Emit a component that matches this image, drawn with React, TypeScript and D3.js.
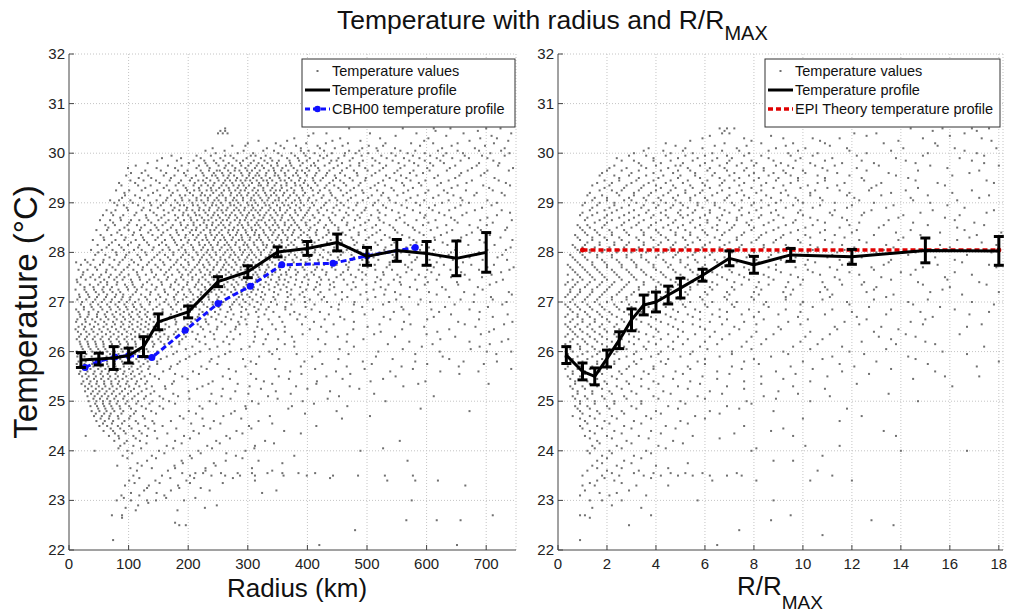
import React from 'react';
import * as d3 from 'd3';

const W = 1013;
const H = 615;

const tempTicks = [22, 23, 24, 25, 26, 27, 28, 29, 30, 31, 32];
const radiusTicks = [0, 100, 200, 300, 400, 500, 600, 700];
const ratioTicks = [0, 2, 4, 6, 8, 10, 12, 14, 16, 18];

// Temperature profile vs radius (km)
const profileRadius = [20, 50, 75, 100, 125, 150, 200, 250, 300, 350, 400, 450, 500, 550, 600, 650, 700];
const profileRadiusT = [25.83, 25.85, 25.87, 25.92, 26.1, 26.6, 26.8, 27.41, 27.61, 28.01, 28.08, 28.2, 27.92, 28.04, 27.98, 27.88, 28.0];
const profileRadiusErr = [0.15, 0.12, 0.23, 0.15, 0.2, 0.16, 0.12, 0.1, 0.12, 0.1, 0.14, 0.17, 0.18, 0.22, 0.24, 0.35, 0.4];

// CBH00 temperature profile
const cbhRadius = [27, 49, 77, 100, 139, 195, 250, 304, 357, 443, 500, 581];
const cbhT = [25.68, 25.8, 25.89, 25.92, 25.88, 26.43, 26.97, 27.32, 27.75, 27.78, 27.93, 28.1];

// Temperature profile vs R/RMAX
const profileRatio = [0.34, 1.0, 1.5, 2.0, 2.5, 3.0, 3.5, 4.0, 4.5, 5.0, 5.9, 7.0, 8.0, 9.5, 12, 15, 18];
const profileRatioT = [25.93, 25.6, 25.5, 25.86, 26.23, 26.64, 26.94, 27.0, 27.14, 27.28, 27.54, 27.88, 27.75, 27.95, 27.91, 28.04, 28.03];
const profileRatioErr = [0.17, 0.17, 0.17, 0.17, 0.17, 0.22, 0.2, 0.2, 0.18, 0.2, 0.12, 0.15, 0.17, 0.13, 0.15, 0.25, 0.29];

// EPI theory
const epiRatio = [1, 18];
const epiT = [28.05, 28.05];

// Scatter: [temperature level, radii (km)]
const leftScatter: [number, number[]][] = [
  [30.5, [262, 470, 560, 612, 640, 700, 724]],
  [30.4, [250, 258, 266, 410, 432, 505, 583, 662, 742]],
  [30.3, [378, 455, 522, 603, 690, 718]],
  [30.2, [300, 347, 398, 431, 468, 531, 574, 611, 652, 713]],
  [30.1, [241, 332, 361, 389, 421, 446, 492, 516, 547, 626, 681, 731]],
  [30.0, [246, 283, 309, 351, 373, 394, 412, 441, 463, 481, 502, 541, 568, 597, 633, 661, 707, 739]],
  [29.9, [156, 188, 221, 254, 276, 298, 322, 338, 366, 384, 404, 427, 452, 476, 509, 533, 562, 588, 617, 643, 671, 702]],
  [29.8, [132, 201, 229, 247, 268, 287, 305, 318, 333, 349, 371, 392, 411, 437, 458, 487, 521, 553, 579, 606, 629, 688, 722]],
  [29.7, [99, 147, 178, 214, 236, 261, 279, 296, 312, 327, 343, 358, 377, 399, 418, 444, 466, 497, 527, 556, 601, 639, 676, 745]],
  [29.6, [104, 122, 163, 193, 224, 243, 257, 271, 289, 303, 316, 331, 346, 362, 381, 396, 415, 433, 455, 483, 514, 546, 572, 594, 658, 697]],
  [29.5, [117, 138, 171, 206, 231, 249, 266, 282, 298, 309, 323, 337, 353, 369, 388, 409, 426, 448, 471, 498, 538, 566, 613, 648, 714]],
  [29.4, [84, 111, 152, 184, 211, 229, 244, 259, 274, 291, 307, 319, 334, 348, 365, 379, 394, 413, 437, 461, 489, 519, 559, 587, 624, 667, 733]],
  [29.3, [128, 159, 196, 218, 238, 252, 268, 283, 297, 311, 326, 341, 357, 373, 391, 406, 429, 452, 478, 506, 541, 577, 642, 705]],
  [29.2, [93, 141, 174, 203, 223, 242, 256, 272, 286, 301, 314, 329, 344, 361, 377, 396, 418, 439, 466, 494, 527, 561, 598, 635, 684, 726]],
  [29.1, [89, 119, 165, 189, 214, 233, 248, 263, 277, 292, 306, 321, 335, 352, 368, 386, 403, 424, 447, 473, 502, 536, 573, 611, 657]],
  [29.0, [76, 107, 136, 158, 182, 207, 226, 241, 255, 270, 284, 299, 313, 328, 342, 358, 374, 389, 408, 431, 456, 484, 513, 548, 582, 626, 671, 718]],
  [28.9, [97, 125, 149, 177, 198, 219, 236, 251, 266, 281, 295, 309, 324, 338, 354, 371, 387, 404, 423, 444, 469, 498, 532, 567, 604, 648, 693]],
  [28.8, [71, 113, 142, 167, 192, 211, 229, 244, 258, 273, 288, 302, 317, 331, 347, 363, 380, 399, 419, 442, 465, 491, 521, 553, 589, 621, 667, 740]],
  [28.7, [86, 130, 155, 183, 204, 223, 239, 253, 268, 282, 297, 311, 326, 341, 357, 374, 393, 412, 436, 461, 488, 519, 555, 596, 641, 702]],
  [28.6, [74, 101, 138, 162, 187, 209, 226, 241, 255, 271, 286, 300, 315, 329, 346, 362, 379, 397, 418, 441, 467, 497, 528, 563, 603, 652, 711]],
  [28.5, [66, 93, 121, 147, 171, 196, 214, 231, 247, 262, 277, 292, 306, 321, 336, 352, 369, 386, 405, 428, 452, 478, 509, 544, 577, 618, 686, 735]],
  [28.4, [81, 109, 133, 158, 181, 203, 221, 237, 252, 267, 282, 297, 312, 327, 343, 359, 376, 394, 414, 436, 459, 486, 516, 551, 588, 634, 676]],
  [28.3, [58, 95, 124, 149, 173, 195, 214, 230, 245, 260, 275, 290, 304, 319, 334, 350, 367, 385, 404, 426, 449, 474, 503, 538, 571, 613, 658, 724]],
  [28.2, [72, 104, 131, 156, 178, 199, 218, 235, 250, 265, 280, 295, 310, 325, 341, 357, 373, 392, 412, 433, 458, 483, 514, 546, 583, 627, 697]],
  [28.1, [63, 88, 116, 142, 167, 189, 208, 225, 241, 256, 271, 286, 301, 316, 331, 347, 364, 382, 401, 422, 445, 471, 499, 531, 566, 604, 649, 741]],
  [28.0, [49, 79, 101, 128, 152, 175, 196, 214, 231, 246, 262, 277, 292, 307, 322, 338, 355, 372, 391, 412, 435, 460, 489, 521, 557, 596, 641, 688]],
  [27.9, [68, 94, 119, 143, 166, 188, 207, 223, 239, 254, 269, 284, 299, 314, 330, 346, 363, 382, 403, 426, 451, 478, 511, 546, 584, 623, 672, 719]],
  [27.8, [12, 31, 57, 85, 109, 134, 158, 180, 200, 218, 234, 249, 264, 279, 294, 309, 325, 341, 358, 377, 397, 419, 443, 470, 503, 538, 575, 617, 661]],
  [27.7, [44, 73, 98, 124, 149, 171, 192, 211, 227, 243, 258, 273, 288, 303, 319, 335, 352, 371, 392, 416, 441, 469, 501, 533, 569, 612, 653, 702, 746]],
  [27.6, [24, 62, 88, 114, 139, 163, 185, 204, 221, 237, 252, 268, 283, 298, 313, 329, 346, 364, 384, 407, 432, 460, 492, 527, 566, 608, 658, 725]],
  [27.5, [20, 36, 51, 67, 80, 93, 118, 143, 166, 188, 207, 224, 240, 256, 271, 286, 302, 318, 334, 352, 372, 395, 420, 449, 481, 517, 556, 598, 641, 693]],
  [27.4, [14, 53, 64, 81, 106, 131, 155, 178, 199, 217, 234, 250, 266, 281, 297, 313, 330, 348, 368, 391, 416, 444, 477, 514, 555, 602, 651, 717]],
  [27.3, [26, 41, 58, 72, 97, 110, 122, 147, 170, 192, 211, 228, 245, 261, 277, 293, 310, 327, 345, 365, 388, 414, 445, 481, 523, 572, 626, 686]],
  [27.2, [29, 45, 58, 73, 86, 112, 137, 161, 183, 204, 222, 239, 256, 272, 289, 306, 324, 344, 366, 392, 422, 458, 499, 547, 604, 663, 738]],
  [27.1, [18, 34, 47, 62, 77, 90, 103, 128, 153, 176, 197, 216, 234, 251, 268, 285, 303, 322, 343, 367, 395, 428, 467, 514, 571, 638, 708]],
  [27.0, [22, 40, 55, 70, 84, 97, 111, 136, 160, 183, 204, 223, 241, 259, 277, 296, 316, 339, 365, 396, 433, 479, 537, 606, 679, 734]],
  [26.9, [25, 38, 53, 68, 82, 96, 109, 122, 147, 171, 193, 213, 232, 251, 270, 290, 311, 335, 363, 397, 440, 492, 558, 631, 703]],
  [26.8, [16, 33, 49, 64, 79, 92, 106, 119, 132, 157, 181, 203, 224, 245, 266, 289, 314, 343, 378, 421, 476, 545, 621, 689]],
  [26.7, [19, 31, 47, 62, 76, 91, 104, 118, 131, 144, 169, 193, 216, 239, 263, 289, 318, 353, 397, 455, 528, 612, 711]],
  [26.6, [12, 28, 44, 59, 74, 88, 102, 115, 129, 142, 155, 180, 205, 230, 256, 284, 317, 358, 411, 478, 562, 653, 744]],
  [26.5, [16, 27, 42, 58, 72, 87, 101, 115, 128, 142, 168, 194, 221, 249, 280, 316, 362, 423, 501, 596, 682]],
  [26.4, [15, 29, 41, 55, 69, 83, 97, 111, 125, 139, 152, 179, 207, 237, 271, 311, 362, 432, 523, 618, 705]],
  [26.3, [17, 30, 43, 56, 70, 83, 97, 111, 125, 139, 153, 167, 196, 228, 265, 312, 374, 451, 547, 648]],
  [26.2, [18, 31, 44, 57, 70, 84, 97, 111, 125, 140, 154, 185, 219, 259, 310, 378, 466, 571, 672, 726]],
  [26.1, [21, 33, 46, 58, 71, 84, 98, 112, 126, 141, 172, 207, 249, 303, 378, 478, 592, 689]],
  [26.0, [13, 26, 39, 52, 64, 77, 90, 104, 118, 133, 148, 181, 220, 270, 336, 421, 519, 622, 701, 742]],
  [25.9, [14, 26, 38, 51, 63, 76, 89, 103, 117, 132, 164, 202, 251, 319, 408, 515, 627]],
  [25.8, [16, 28, 40, 52, 64, 77, 89, 103, 117, 132, 148, 186, 236, 305, 395, 493, 581, 662, 718]],
  [25.7, [18, 29, 41, 53, 66, 78, 92, 105, 120, 135, 171, 222, 296, 389, 466, 558, 654]],
  [25.6, [19, 31, 43, 55, 67, 80, 93, 107, 122, 158, 208, 280, 371, 448, 539, 623, 687]],
  [25.5, [22, 33, 45, 57, 69, 82, 96, 110, 127, 144, 190, 258, 352, 432, 548]],
  [25.4, [24, 36, 47, 59, 71, 84, 98, 114, 131, 176, 241, 327, 416, 506, 598]],
  [25.3, [27, 38, 50, 61, 73, 86, 101, 118, 139, 161, 224, 303, 381, 471, 561]],
  [25.2, [27, 40, 51, 63, 75, 89, 104, 122, 143, 201, 279, 347, 438]],
  [25.1, [31, 43, 55, 66, 79, 93, 110, 129, 152, 183, 256, 334, 453, 612]],
  [25.0, [33, 46, 57, 69, 82, 98, 116, 140, 168, 236, 307, 392, 531]],
  [24.9, [36, 47, 59, 71, 85, 101, 122, 152, 219, 296, 374, 467]],
  [24.8, [38, 51, 63, 76, 91, 112, 138, 201, 278, 449, 672]],
  [24.7, [42, 55, 68, 82, 103, 124, 186, 259, 337, 505]],
  [24.6, [46, 60, 74, 93, 112, 140, 171, 243, 318]],
  [24.5, [51, 64, 82, 101, 128, 157, 226, 302, 415]],
  [24.4, [58, 74, 92, 118, 144, 209, 281, 361]],
  [24.3, [28, 67, 83, 108, 131, 193, 264]],
  [24.2, [76, 97, 119, 178, 247, 329, 555]],
  [24.1, [86, 108, 164, 232, 312]],
  [24.0, [43, 98, 151, 217, 296, 489]],
  [23.9, [90, 139, 203, 280, 378]],
  [23.8, [131, 189, 263, 318, 568]],
  [23.7, [81, 122, 177, 246]],
  [23.6, [114, 166, 229, 341]],
  [23.5, [108, 156, 203, 239, 262, 287, 312, 360, 399, 443, 485, 530, 577]],
  [23.4, [101, 145, 197, 312, 534, 581, 619]],
  [23.3, [94, 134, 183, 665]],
  [23.2, [126, 171, 236, 348]],
  [23.1, [88, 118, 160]],
  [23.0, [80, 104, 131, 146, 193, 575]],
  [22.9, [116, 248]],
  [22.8, [112, 182]],
  [22.7, [72, 89, 711]],
  [22.6, [566, 617, 657]],
  [22.5, [185, 196]],
  [22.4, [480]],
  [22.2, [74]],
  [22.1, [420, 651]],
];

const leftScatterB: [number, number[]][] = [
  [30.45, [254, 262, 615, 686]],
  [30.35, [402, 548, 633, 709]],
  [30.25, [318, 366, 442, 489, 596, 672, 737]],
  [30.15, [274, 296, 355, 381, 417, 459, 503, 527, 589, 642, 698]],
  [30.05, [229, 261, 293, 326, 344, 389, 402, 428, 470, 487, 518, 556, 581, 619, 652, 688, 725]],
  [29.95, [172, 214, 238, 262, 271, 305, 313, 330, 357, 379, 397, 421, 433, 462, 491, 524, 548, 577, 606, 628, 664, 693, 731]],
  [29.85, [148, 181, 209, 227, 243, 259, 281, 292, 310, 328, 341, 352, 370, 386, 399, 418, 440, 449, 471, 493, 514, 543, 571, 597, 623, 657, 712]],
  [29.75, [112, 166, 189, 218, 232, 251, 263, 274, 289, 301, 315, 324, 339, 350, 364, 373, 388, 406, 413, 429, 451, 472, 487, 509, 532, 563, 586, 611, 648, 684, 720]],
  [29.65, [128, 154, 183, 199, 221, 235, 248, 253, 267, 278, 286, 299, 307, 320, 335, 344, 356, 368, 383, 391, 403, 420, 437, 458, 478, 501, 521, 551, 578, 605, 634, 669, 702, 738]],
  [29.55, [96, 133, 159, 177, 196, 213, 226, 240, 246, 259, 268, 277, 291, 302, 313, 319, 330, 345, 351, 363, 376, 384, 399, 413, 431, 446, 463, 484, 508, 532, 557, 583, 619, 655, 691]],
  [29.45, [103, 125, 146, 169, 188, 203, 217, 225, 237, 251, 262, 270, 280, 288, 296, 304, 315, 326, 332, 341, 355, 362, 373, 386, 396, 410, 422, 443, 455, 476, 497, 527, 549, 573, 598, 637, 676, 721]],
  [29.35, [88, 116, 137, 164, 179, 192, 209, 222, 233, 242, 256, 264, 276, 285, 293, 302, 318, 322, 333, 345, 356, 365, 380, 388, 401, 417, 432, 445, 465, 486, 513, 530, 562, 591, 618, 652, 695, 740]],
  [29.25, [79, 101, 122, 148, 168, 182, 198, 210, 219, 231, 239, 247, 260, 269, 279, 288, 295, 308, 317, 326, 338, 347, 354, 366, 378, 392, 409, 421, 437, 456, 472, 492, 517, 545, 569, 603, 629, 666, 711]],
  [29.15, [94, 111, 133, 153, 171, 186, 195, 208, 221, 228, 237, 252, 258, 271, 282, 289, 299, 310, 318, 331, 339, 348, 359, 371, 382, 393, 410, 427, 441, 460, 481, 508, 524, 551, 585, 620, 645, 680, 731]],
  [29.05, [69, 84, 103, 126, 147, 163, 178, 190, 202, 214, 222, 233, 244, 251, 263, 275, 281, 292, 305, 311, 324, 333, 346, 352, 364, 379, 388, 401, 415, 437, 450, 468, 493, 519, 538, 566, 596, 637, 660, 702]],
  [28.95, [81, 92, 116, 138, 154, 171, 186, 193, 208, 216, 229, 240, 247, 258, 271, 277, 288, 301, 307, 317, 330, 336, 349, 361, 368, 381, 394, 411, 428, 449, 461, 482, 510, 527, 558, 589, 614, 657, 709]],
  [28.85, [63, 78, 99, 122, 136, 159, 174, 185, 197, 207, 218, 226, 235, 249, 256, 264, 277, 285, 294, 306, 313, 321, 335, 344, 354, 366, 379, 389, 402, 417, 433, 454, 477, 496, 518, 542, 577, 610, 638, 681, 726]],
  [28.75, [57, 74, 91, 110, 129, 147, 160, 178, 191, 200, 213, 219, 233, 242, 250, 263, 270, 279, 291, 299, 309, 320, 328, 338, 350, 358, 371, 384, 396, 409, 427, 447, 469, 484, 507, 531, 563, 598, 630, 660, 718]],
  [28.65, [52, 69, 87, 104, 118, 133, 150, 167, 179, 193, 205, 215, 227, 234, 247, 258, 265, 278, 287, 295, 306, 318, 323, 336, 345, 355, 368, 377, 390, 404, 421, 438, 458, 480, 503, 521, 549, 583, 615, 647, 690, 743]],
  [28.55, [61, 77, 98, 114, 127, 144, 157, 174, 188, 199, 209, 220, 231, 240, 251, 259, 269, 283, 290, 301, 312, 318, 331, 342, 350, 362, 373, 383, 398, 412, 431, 446, 466, 489, 515, 538, 569, 594, 633, 672, 701]],
  [28.45, [46, 64, 85, 100, 119, 137, 150, 165, 180, 191, 206, 213, 226, 237, 244, 256, 268, 275, 284, 296, 307, 314, 326, 338, 346, 358, 367, 378, 389, 403, 416, 435, 452, 471, 497, 522, 547, 580, 607, 643, 691, 732]],
  [28.35, [53, 71, 88, 107, 121, 140, 155, 170, 184, 196, 208, 217, 229, 239, 248, 257, 270, 280, 289, 300, 311, 319, 330, 341, 352, 363, 374, 389, 400, 415, 432, 447, 464, 486, 509, 530, 559, 595, 624, 667, 706]],
  [28.25, [40, 59, 78, 93, 112, 126, 145, 161, 176, 188, 201, 211, 224, 232, 243, 254, 262, 273, 285, 291, 303, 315, 322, 336, 347, 356, 366, 379, 391, 406, 419, 439, 456, 477, 498, 524, 553, 578, 614, 653, 689, 744]],
  [28.15, [48, 67, 84, 99, 118, 134, 151, 163, 181, 192, 205, 219, 228, 238, 249, 261, 268, 279, 293, 299, 311, 326, 332, 344, 353, 368, 377, 395, 408, 424, 437, 455, 479, 494, 518, 541, 573, 592, 635, 670, 714]],
  [28.05, [37, 55, 73, 92, 109, 122, 140, 157, 169, 184, 195, 209, 222, 233, 241, 253, 266, 273, 287, 295, 305, 318, 327, 340, 349, 361, 375, 386, 397, 413, 427, 445, 466, 484, 507, 529, 560, 589, 612, 648, 702, 733]],
  [27.95, [44, 61, 80, 96, 115, 130, 148, 161, 175, 191, 201, 216, 226, 236, 247, 259, 271, 279, 290, 302, 311, 322, 336, 344, 356, 369, 379, 394, 408, 421, 439, 456, 474, 496, 518, 543, 571, 600, 637, 683, 727]],
  [27.85, [27, 41, 58, 76, 90, 105, 121, 139, 153, 170, 182, 195, 209, 220, 231, 243, 254, 262, 275, 286, 296, 306, 319, 331, 337, 352, 362, 375, 389, 404, 418, 434, 453, 475, 492, 519, 547, 581, 605, 644, 694, 735]],
  [27.75, [20, 36, 52, 68, 83, 101, 116, 131, 145, 160, 176, 188, 201, 215, 225, 236, 248, 260, 268, 281, 292, 300, 313, 324, 333, 346, 357, 367, 383, 396, 410, 428, 449, 465, 488, 513, 538, 564, 597, 629, 675, 713]],
  [27.65, [16, 31, 47, 63, 78, 92, 108, 123, 138, 154, 168, 182, 196, 207, 219, 232, 242, 255, 263, 277, 288, 296, 309, 320, 331, 342, 354, 369, 380, 395, 413, 425, 447, 468, 486, 514, 542, 575, 601, 640, 688, 739]],
  [27.55, [23, 40, 54, 70, 85, 100, 115, 129, 146, 160, 173, 190, 200, 213, 228, 236, 248, 263, 272, 281, 294, 309, 316, 328, 341, 356, 365, 381, 399, 411, 431, 456, 473, 498, 528, 551, 587, 621, 664, 709]],
  [27.45, [13, 28, 44, 59, 76, 90, 104, 119, 135, 150, 164, 180, 192, 207, 218, 229, 243, 255, 263, 276, 290, 299, 314, 322, 339, 353, 362, 381, 402, 423, 436, 461, 492, 523, 545, 581, 617, 672, 728]],
  [27.35, [19, 35, 49, 64, 80, 94, 107, 124, 139, 156, 171, 184, 198, 213, 223, 237, 248, 260, 273, 284, 298, 306, 321, 335, 351, 360, 379, 401, 421, 438, 467, 499, 536, 557, 597, 653, 706]],
  [27.25, [11, 26, 42, 56, 69, 83, 99, 114, 130, 145, 160, 176, 190, 202, 217, 229, 244, 252, 266, 279, 296, 309, 317, 336, 355, 373, 398, 411, 437, 474, 511, 531, 584, 632, 694]],
  [27.15, [17, 32, 50, 64, 79, 91, 107, 121, 136, 150, 166, 180, 193, 208, 221, 234, 247, 261, 275, 290, 299, 314, 329, 351, 372, 387, 418, 447, 489, 529, 556, 617, 680, 743]],
  [27.05, [14, 29, 44, 59, 72, 88, 102, 117, 131, 146, 163, 177, 191, 209, 218, 235, 249, 264, 281, 292, 308, 326, 346, 378, 404, 424, 458, 501, 549, 590, 657, 711]],
  [26.95, [20, 36, 49, 64, 78, 93, 107, 120, 135, 152, 167, 180, 199, 211, 226, 241, 256, 274, 286, 303, 322, 349, 373, 412, 453, 478, 527, 586, 647, 727]],
  [26.85, [12, 25, 41, 56, 70, 85, 98, 113, 127, 141, 157, 174, 188, 207, 219, 237, 254, 272, 297, 318, 331, 363, 407, 452, 510, 561, 608, 672]],
  [26.75, [18, 33, 47, 60, 73, 86, 101, 115, 128, 142, 155, 171, 186, 200, 218, 233, 251, 276, 301, 328, 371, 387, 436, 496, 571, 641, 736]],
  [26.65, [14, 27, 39, 53, 66, 80, 94, 108, 122, 136, 149, 164, 178, 193, 212, 229, 247, 272, 296, 335, 383, 429, 462, 539, 601, 688]],
  [26.55, [22, 35, 49, 63, 77, 91, 106, 121, 134, 149, 162, 179, 199, 216, 234, 262, 286, 298, 341, 391, 444, 521, 573, 664, 730]],
  [26.45, [11, 25, 38, 51, 65, 79, 93, 107, 120, 133, 147, 161, 183, 200, 225, 248, 279, 324, 347, 404, 477, 559, 638, 713]],
  [26.35, [20, 34, 48, 62, 75, 89, 104, 118, 132, 146, 160, 176, 193, 216, 243, 287, 334, 392, 467, 512, 600, 691]],
  [26.25, [13, 27, 40, 53, 67, 80, 93, 106, 120, 134, 150, 166, 190, 213, 244, 276, 330, 351, 418, 494, 623, 737]],
  [26.15, [19, 32, 45, 58, 72, 86, 99, 112, 127, 143, 160, 185, 229, 269, 326, 362, 430, 535, 610, 706]],
  [26.05, [23, 36, 49, 61, 75, 88, 101, 117, 130, 158, 196, 236, 289, 349, 454, 560, 674]],
  [25.95, [15, 29, 43, 56, 69, 83, 97, 111, 126, 145, 175, 212, 262, 341, 382, 469, 581, 717]],
  [25.85, [21, 34, 47, 59, 73, 86, 100, 113, 128, 154, 196, 239, 292, 353, 452, 543, 638]],
  [25.75, [13, 26, 39, 51, 64, 77, 91, 108, 125, 148, 182, 249, 314, 425, 508, 601, 696]],
  [25.65, [24, 36, 49, 61, 73, 86, 101, 115, 133, 169, 231, 268, 346, 413, 496, 577, 742]],
  [25.55, [17, 28, 41, 53, 65, 78, 91, 104, 118, 136, 178, 218, 305, 390, 472, 655]],
  [25.45, [30, 42, 54, 66, 78, 90, 105, 121, 151, 199, 270, 314, 369, 459, 527]],
  [25.35, [21, 34, 46, 59, 71, 82, 96, 112, 128, 173, 234, 283, 341, 415, 586, 704]],
  [25.25, [32, 45, 56, 68, 80, 94, 109, 130, 162, 215, 258, 322, 400, 487]],
  [25.15, [37, 48, 60, 72, 85, 99, 116, 137, 175, 239, 301, 372, 512]],
  [25.05, [41, 52, 64, 76, 91, 106, 126, 158, 202, 271, 350, 434]],
  [24.95, [44, 57, 68, 80, 95, 113, 135, 178, 247, 318, 411]],
  [24.85, [49, 61, 73, 86, 104, 129, 158, 224, 297, 368, 590]],
  [24.75, [45, 59, 70, 88, 109, 146, 213, 272, 396]],
  [24.65, [53, 67, 83, 101, 127, 192, 224, 289, 458]],
  [24.55, [57, 72, 89, 116, 143, 205, 254, 341]],
  [24.45, [70, 86, 105, 133, 180, 237, 306]],
  [24.35, [77, 95, 122, 165, 218, 291, 389]],
  [24.25, [84, 112, 148, 203, 270]],
  [24.15, [93, 130, 189, 253, 344]],
  [24.05, [83, 121, 175, 240, 311, 527]],
  [23.95, [106, 160, 221, 264]],
  [23.85, [98, 146, 206, 291]],
  [23.75, [115, 191, 243, 358]],
  [23.65, [103, 139, 178, 229, 307]],
  [23.55, [190, 212, 225, 255, 283, 307, 333, 358, 385, 413]],
  [23.45, [118, 170, 210, 275, 438]],
  [23.35, [110, 152, 203, 258]],
  [23.25, [131, 185, 221]],
  [23.15, [104, 147, 324]],
  [23.05, [92, 163, 212]],
  [22.95, [133]],
  [22.85, [95, 228]],
  [22.65, [89]],
  [22.55, [178]],
];

// Scatter: [temperature level, R/RMAX values]
const rightScatter: [number, number[]][] = [
  [30.5, [6.6, 6.9, 7.2, 14.4, 15.7, 16.9, 17.6]],
  [30.4, [6.7, 7.0, 12.1, 13.0, 16.6]],
  [30.3, [5.9, 7.6, 9.2, 10.4, 11.5, 14.9, 17.3]],
  [30.2, [4.4, 6.8, 8.3, 9.6, 10.9, 13.3, 15.4]],
  [30.1, [3.7, 5.2, 5.9, 7.3, 8.9, 10.1, 11.8, 14.1, 16.2, 17.9]],
  [30.0, [3.1, 4.6, 5.5, 6.3, 7.8, 9.4, 10.6, 12.6, 15.1, 17.1]],
  [29.9, [2.4, 3.9, 4.9, 5.7, 6.5, 7.1, 8.6, 9.9, 11.2, 13.8, 16.4]],
  [29.8, [3.3, 4.2, 5.1, 6.0, 6.9, 7.5, 8.1, 9.1, 10.3, 11.6, 12.9, 14.6, 17.4]],
  [29.7, [2.1, 2.8, 3.6, 4.5, 5.3, 6.2, 6.8, 7.7, 8.4, 9.6, 10.8, 12.2, 15.9]],
  [29.6, [1.8, 3.0, 3.9, 4.7, 5.6, 6.4, 7.2, 8.0, 8.8, 9.3, 10.1, 11.4, 13.5, 16.8]],
  [29.5, [2.5, 3.3, 4.1, 4.9, 5.8, 6.6, 7.4, 8.2, 9.0, 9.8, 10.9, 12.4, 14.3]],
  [29.4, [1.6, 2.2, 3.0, 3.7, 4.4, 5.1, 5.9, 6.7, 7.6, 8.5, 9.5, 10.6, 11.7, 13.2, 15.5, 17.8]],
  [29.3, [1.9, 2.7, 3.4, 4.2, 4.8, 5.5, 6.2, 7.0, 7.9, 8.8, 9.9, 11.0, 12.8, 14.7]],
  [29.2, [1.3, 2.4, 3.1, 3.8, 4.5, 5.2, 5.8, 6.5, 7.3, 8.1, 9.1, 10.3, 11.9, 13.6, 16.1]],
  [29.1, [1.5, 2.0, 2.9, 3.5, 4.1, 4.7, 5.4, 6.0, 6.9, 7.8, 8.7, 9.7, 10.7, 12.1, 14.4, 17.2]],
  [29.0, [1.1, 1.7, 2.3, 3.2, 3.9, 4.4, 5.0, 5.7, 6.4, 7.1, 8.0, 8.9, 10.0, 11.3, 12.9, 15.2]],
  [28.9, [1.4, 2.1, 2.6, 3.4, 4.0, 4.6, 5.3, 5.9, 6.6, 7.5, 8.3, 9.3, 10.4, 11.8, 13.4, 16.6]],
  [28.8, [1.0, 1.6, 2.2, 2.9, 3.6, 4.2, 4.9, 5.5, 6.2, 7.0, 7.8, 8.7, 9.8, 11.1, 12.5, 14.8, 17.5]],
  [28.7, [1.2, 1.9, 2.5, 3.1, 3.8, 4.5, 5.1, 5.8, 6.5, 7.3, 8.2, 9.2, 10.3, 11.6, 13.9, 15.8]],
  [28.6, [1.5, 2.0, 2.7, 3.3, 4.0, 4.7, 5.4, 6.1, 6.9, 7.7, 8.6, 9.6, 10.9, 12.3, 14.5, 17.0]],
  [28.5, [0.9, 1.3, 1.8, 2.4, 3.0, 3.7, 4.3, 4.9, 5.6, 6.3, 7.1, 8.0, 9.0, 10.1, 11.5, 13.1, 16.3]],
  [28.4, [1.1, 1.6, 2.2, 2.8, 3.5, 4.1, 4.8, 5.4, 6.0, 6.8, 7.6, 8.5, 9.5, 10.7, 12.0, 13.8, 15.6, 18.1]],
  [28.3, [0.8, 1.4, 1.9, 2.5, 3.2, 3.8, 4.4, 5.1, 5.7, 6.4, 7.3, 8.2, 9.1, 10.3, 11.7, 14.1, 16.8]],
  [28.2, [1.2, 1.7, 2.3, 2.9, 3.5, 4.2, 4.8, 5.5, 6.2, 7.0, 7.9, 8.8, 9.9, 11.2, 12.6, 15.0, 17.3]],
  [28.1, [0.7, 1.0, 1.5, 2.1, 2.7, 3.3, 3.9, 4.6, 5.2, 5.9, 6.6, 7.4, 8.4, 9.4, 10.6, 12.1, 13.7, 16.0]],
  [28.0, [0.9, 1.3, 1.8, 2.4, 3.0, 3.6, 4.3, 4.9, 5.6, 6.3, 7.1, 8.0, 9.0, 10.2, 11.4, 13.0, 14.6, 17.7]],
  [27.9, [0.6, 1.1, 1.6, 2.2, 2.8, 3.4, 4.0, 4.7, 5.3, 6.0, 6.8, 7.7, 8.6, 9.7, 11.0, 12.4, 15.4]],
  [27.8, [0.8, 1.4, 1.9, 2.5, 3.1, 3.7, 4.4, 5.0, 5.7, 6.5, 7.3, 8.2, 9.3, 10.5, 11.9, 13.5, 16.5]],
  [27.7, [0.5, 1.0, 1.5, 2.0, 2.6, 3.2, 3.9, 4.5, 5.2, 5.9, 6.7, 7.6, 8.6, 9.7, 11.1, 12.8, 14.9, 17.9]],
  [27.6, [0.7, 1.2, 1.7, 2.3, 2.9, 3.5, 4.2, 4.8, 5.5, 6.3, 7.1, 8.0, 9.1, 10.4, 11.9, 14.0, 16.2]],
  [27.5, [0.9, 1.4, 1.9, 2.5, 3.1, 3.8, 4.4, 5.1, 5.9, 6.7, 7.6, 8.6, 9.8, 11.3, 13.2, 15.8]],
  [27.4, [0.4, 0.8, 1.3, 1.8, 2.3, 2.9, 3.5, 4.1, 4.8, 5.5, 6.3, 7.2, 8.2, 9.4, 10.8, 12.5, 14.7, 17.2]],
  [27.3, [0.6, 1.1, 1.6, 2.1, 2.7, 3.3, 4.0, 4.7, 5.4, 6.2, 7.1, 8.1, 9.3, 10.9, 13.0, 16.0]],
  [27.2, [0.5, 0.9, 1.4, 1.9, 2.5, 3.1, 3.7, 4.4, 5.2, 6.0, 6.9, 8.0, 9.2, 10.7, 12.6, 15.2, 18.0]],
  [27.1, [0.3, 0.7, 1.2, 1.7, 2.2, 2.8, 3.5, 4.2, 4.9, 5.8, 6.8, 7.9, 9.3, 11.1, 13.4]],
  [27.0, [0.5, 1.0, 1.5, 2.0, 2.6, 3.2, 3.9, 4.6, 5.4, 6.3, 7.3, 8.5, 10.0, 11.8, 14.3, 16.9]],
  [26.9, [0.4, 0.8, 1.3, 1.8, 2.4, 3.0, 3.7, 4.4, 5.2, 6.1, 7.2, 8.6, 10.4, 12.7, 15.6]],
  [26.8, [0.6, 1.1, 1.6, 2.1, 2.7, 3.4, 4.1, 4.9, 5.8, 6.9, 8.2, 9.9, 12.0, 14.8, 17.6]],
  [26.7, [0.3, 0.8, 1.3, 1.8, 2.4, 3.1, 3.8, 4.6, 5.5, 6.6, 8.0, 9.8, 12.2, 15.3]],
  [26.6, [0.5, 1.0, 1.5, 2.1, 2.7, 3.4, 4.2, 5.1, 6.2, 7.6, 9.4, 11.7, 14.4]],
  [26.5, [0.4, 0.7, 1.2, 1.7, 2.3, 3.0, 3.8, 4.7, 5.8, 7.2, 9.0, 11.3, 13.2, 16.7]],
  [26.4, [0.6, 1.0, 1.5, 2.0, 2.6, 3.3, 4.1, 5.1, 6.4, 8.1, 10.3, 12.9]],
  [26.3, [0.3, 0.8, 1.3, 1.8, 2.4, 3.1, 3.9, 4.9, 6.2, 7.9, 10.1, 13.1, 14.6]],
  [26.2, [0.5, 1.1, 1.6, 2.2, 2.9, 3.7, 4.7, 6.0, 7.7, 9.9, 12.4, 15.0]],
  [26.1, [0.4, 0.9, 1.4, 2.0, 2.7, 3.5, 4.5, 5.8, 7.5, 9.6, 11.6, 17.4]],
  [26.0, [0.6, 1.2, 1.7, 2.4, 3.2, 4.2, 5.5, 7.1, 9.2, 11.9, 15.7]],
  [25.9, [0.3, 0.8, 1.4, 2.0, 2.8, 3.8, 5.0, 6.6, 8.7, 11.2, 14.3]],
  [25.8, [0.5, 1.0, 1.6, 2.3, 3.1, 4.2, 5.7, 7.6, 10.0, 13.0, 18.0]],
  [25.7, [0.4, 0.9, 1.4, 2.1, 2.9, 3.9, 5.3, 7.1, 9.5, 12.1, 17.1]],
  [25.6, [0.6, 1.1, 1.7, 2.5, 3.5, 4.8, 6.5, 8.9, 11.6, 15.4]],
  [25.5, [0.4, 0.9, 1.5, 2.2, 3.1, 4.3, 5.9, 8.3, 11.0, 15.8, 17.2]],
  [25.4, [0.7, 1.2, 1.9, 2.8, 3.9, 5.4, 7.6, 10.3]],
  [25.3, [0.5, 1.0, 1.6, 2.4, 3.4, 4.9, 6.9, 9.6, 16.1]],
  [25.2, [0.8, 1.4, 2.1, 3.0, 4.3, 6.2, 9.0]],
  [25.1, [0.6, 1.1, 1.8, 2.7, 3.9, 5.7, 8.4, 11.1]],
  [25.0, [0.9, 1.5, 2.3, 3.4, 5.0, 7.7, 10.3, 14.7]],
  [24.9, [0.7, 1.2, 2.0, 3.0, 4.5, 6.9]],
  [24.8, [0.9, 1.6, 2.6, 4.0, 6.2, 8.8]],
  [24.7, [0.6, 1.3, 2.2, 3.6, 5.6, 12.4]],
  [24.6, [1.1, 1.9, 3.1, 5.0, 11.5]],
  [24.5, [0.9, 1.6, 2.7, 4.4, 7.6]],
  [24.4, [1.3, 2.3, 3.8, 8.7, 13.3]],
  [24.3, [1.1, 2.0, 3.3, 5.5, 9.6, 13.8]],
  [24.2, [1.6, 2.8, 4.7]],
  [24.1, [1.4, 2.4, 4.1, 10.1, 11.5]],
  [24.0, [1.2, 2.1, 3.6, 7.9, 14.0, 16.7]],
  [23.9, [1.8, 3.1, 10.8]],
  [23.8, [1.6, 2.7, 8.8, 9.6]],
  [23.7, [1.4, 2.4, 4.0]],
  [23.6, [1.2, 2.0, 3.3, 10.6]],
  [23.5, [1.0, 1.8, 2.5, 3.5, 4.2, 4.9, 5.5, 6.2, 6.9, 7.5, 11.2]],
  [23.4, [1.6, 2.3, 6.3, 8.1, 10.3, 12.0]],
  [23.3, [1.0, 1.5, 3.2, 4.5]],
  [23.2, [1.1, 2.9]],
  [23.1, [0.9, 2.1, 3.6]],
  [23.0, [1.3, 1.8, 2.6, 5.7, 8.8]],
  [22.9, [2.2]],
  [22.7, [0.9, 1.1, 3.8, 9.5]],
  [22.6, [8.7, 12.8]],
  [22.5, [2.9, 13.7]],
  [22.4, [7.4]],
  [22.3, [10.8]],
  [22.2, [0.9]],
  [22.1, [6.5]],
];

const rightScatterB: [number, number[]][] = [
  [30.45, [6.8, 15.3, 17.1]],
  [30.35, [6.2, 8.7, 12.6, 16.0]],
  [30.25, [5.4, 7.9, 10.7, 13.9, 17.7]],
  [30.15, [4.8, 6.4, 7.7, 9.3, 11.1, 15.5]],
  [30.05, [3.5, 4.3, 5.1, 6.7, 7.4, 8.6, 9.8, 11.9, 13.6, 16.6]],
  [29.95, [2.9, 3.6, 4.4, 5.2, 6.0, 6.9, 7.6, 8.3, 9.5, 10.4, 12.2, 14.9, 17.4]],
  [29.85, [2.6, 3.1, 3.9, 4.6, 5.5, 6.3, 7.0, 7.9, 8.8, 9.7, 10.9, 12.4, 14.2, 16.9]],
  [29.75, [2.3, 3.4, 4.0, 4.8, 5.0, 5.8, 6.6, 7.3, 8.0, 8.9, 9.4, 10.5, 11.3, 13.1, 15.2, 18.0]],
  [29.65, [2.0, 2.6, 3.3, 4.2, 4.9, 5.4, 6.1, 6.9, 7.6, 8.4, 9.2, 10.0, 11.0, 12.6, 14.7, 17.2]],
  [29.55, [1.7, 2.3, 2.9, 3.6, 4.3, 5.0, 5.6, 6.3, 7.0, 7.8, 8.6, 9.5, 10.6, 11.9, 13.8, 16.1]],
  [29.45, [1.9, 2.5, 3.2, 3.9, 4.6, 5.3, 6.1, 6.8, 7.2, 8.0, 8.9, 9.8, 10.9, 12.5, 14.6, 17.5]],
  [29.35, [1.4, 2.1, 2.8, 3.5, 4.0, 4.7, 5.4, 6.0, 6.6, 7.4, 8.3, 9.2, 10.2, 11.4, 13.0, 15.8]],
  [29.25, [1.7, 2.2, 2.6, 3.3, 4.0, 4.6, 5.2, 5.9, 6.7, 7.5, 8.3, 9.3, 10.5, 11.5, 12.7, 14.2, 16.9]],
  [29.15, [1.2, 1.8, 2.5, 3.1, 3.7, 4.3, 4.9, 5.6, 6.3, 7.0, 7.6, 8.5, 9.4, 10.3, 11.8, 13.2, 15.1, 17.6]],
  [29.05, [1.4, 2.0, 2.7, 3.0, 3.6, 4.2, 4.8, 5.4, 6.1, 6.8, 7.5, 8.3, 9.1, 9.8, 10.8, 12.3, 14.5, 16.3]],
  [28.95, [1.0, 1.6, 2.3, 2.9, 3.5, 4.1, 4.7, 5.1, 5.7, 6.4, 7.2, 7.9, 8.6, 9.6, 10.7, 12.0, 13.7, 15.9]],
  [28.85, [1.3, 1.9, 2.4, 3.1, 3.7, 4.4, 5.0, 5.6, 6.2, 6.8, 7.4, 8.1, 8.9, 9.9, 11.3, 12.8, 15.3, 17.8]],
  [28.75, [0.9, 1.4, 2.0, 2.7, 3.3, 3.9, 4.4, 5.0, 5.3, 6.0, 6.7, 7.5, 8.3, 9.0, 10.0, 11.2, 12.4, 14.1, 16.4]],
  [28.65, [1.1, 1.7, 2.2, 2.9, 3.5, 4.2, 4.8, 5.5, 6.1, 6.6, 7.3, 7.9, 8.8, 9.7, 10.6, 11.8, 13.5, 16.2]],
  [28.55, [0.8, 1.2, 1.9, 2.6, 3.2, 3.8, 4.5, 5.1, 5.8, 6.5, 7.2, 7.8, 8.4, 9.3, 10.4, 11.9, 13.3, 15.1, 17.4]],
  [28.45, [1.0, 1.5, 2.1, 2.7, 3.4, 4.0, 4.6, 5.2, 5.9, 6.5, 7.0, 7.9, 8.8, 9.8, 10.9, 12.2, 14.4, 16.6]],
  [28.35, [0.7, 1.2, 1.7, 2.2, 2.9, 3.5, 4.2, 4.8, 5.4, 6.1, 6.7, 7.5, 8.3, 9.2, 10.1, 11.3, 12.9, 14.8, 17.1]],
  [28.25, [0.9, 1.4, 2.0, 2.6, 3.3, 3.9, 4.5, 5.2, 5.8, 6.6, 7.3, 8.1, 8.9, 9.8, 10.9, 12.3, 13.9, 16.3]],
  [28.15, [0.6, 1.1, 1.7, 2.3, 2.8, 3.5, 4.1, 4.7, 5.3, 6.0, 6.8, 7.5, 8.4, 9.3, 10.3, 11.6, 13.4, 15.6, 17.9]],
  [28.05, [0.8, 1.3, 1.9, 2.5, 3.2, 3.8, 4.5, 5.1, 5.8, 6.6, 7.4, 8.3, 9.2, 10.4, 11.7, 13.3, 15.2, 17.4]],
  [27.95, [0.5, 1.0, 1.6, 2.2, 2.8, 3.4, 4.1, 4.8, 5.5, 6.2, 7.0, 7.8, 8.7, 9.9, 11.2, 12.8, 14.3, 16.7]],
  [27.85, [0.7, 1.2, 1.8, 2.4, 3.0, 3.6, 4.3, 5.0, 5.6, 6.4, 7.2, 8.1, 9.1, 10.2, 11.5, 13.6, 16.2]],
  [27.75, [0.4, 0.9, 1.4, 2.0, 2.6, 3.2, 3.9, 4.6, 5.3, 6.0, 6.9, 7.9, 8.9, 10.1, 11.6, 13.3, 15.5, 17.6]],
  [27.65, [0.6, 1.1, 1.6, 2.2, 2.8, 3.4, 4.0, 4.7, 5.4, 6.1, 7.0, 7.8, 8.9, 10.2, 11.4, 12.9, 14.6]],
  [27.55, [0.4, 0.8, 1.3, 1.8, 2.4, 3.0, 3.6, 4.3, 5.0, 5.7, 6.5, 7.4, 8.4, 9.5, 10.7, 12.3, 14.4, 16.9]],
  [27.45, [0.6, 1.0, 1.5, 2.0, 2.6, 3.2, 3.9, 4.6, 5.3, 6.0, 6.9, 7.8, 8.8, 10.0, 11.5, 13.6, 15.9]],
  [27.35, [0.3, 0.7, 1.2, 1.7, 2.2, 2.8, 3.5, 4.2, 4.9, 5.7, 6.5, 7.5, 8.6, 9.9, 11.6, 12.4, 14.9, 17.5]],
  [27.25, [0.5, 0.9, 1.4, 2.0, 2.6, 3.3, 4.0, 4.6, 5.4, 6.3, 7.2, 8.3, 9.6, 11.0, 12.9, 15.7]],
  [27.15, [0.4, 0.8, 1.3, 1.8, 2.4, 3.0, 3.7, 4.5, 5.3, 6.1, 7.0, 8.2, 9.5, 11.2, 13.7, 16.5]],
  [27.05, [0.6, 1.1, 1.6, 2.2, 2.8, 3.5, 4.2, 5.0, 5.9, 6.9, 8.0, 9.3, 10.8, 12.9, 15.1]],
  [26.95, [0.3, 0.7, 1.2, 1.7, 2.3, 2.9, 3.5, 4.3, 5.1, 6.0, 7.1, 8.4, 9.9, 11.9, 14.5, 17.8]],
  [26.85, [0.5, 0.9, 1.4, 1.9, 2.5, 3.2, 3.9, 4.7, 5.6, 6.6, 7.8, 9.3, 11.2, 13.6, 16.2]],
  [26.75, [0.4, 0.8, 1.2, 1.7, 2.2, 2.9, 3.6, 4.4, 5.3, 6.3, 7.5, 9.0, 10.9, 13.4, 16.8]],
  [26.65, [0.6, 1.0, 1.5, 2.0, 2.6, 3.2, 4.0, 4.8, 5.8, 6.9, 8.4, 10.2, 12.6, 15.0]],
  [26.55, [0.3, 0.8, 1.3, 1.8, 2.4, 3.0, 3.7, 4.5, 5.5, 6.7, 8.1, 9.9, 12.3, 14.9, 17.3]],
  [26.45, [0.5, 0.9, 1.4, 1.9, 2.5, 3.2, 4.0, 4.9, 6.0, 7.4, 9.1, 11.4, 13.9]],
  [26.35, [0.4, 0.7, 1.2, 1.7, 2.3, 2.9, 3.6, 4.5, 5.6, 7.0, 8.8, 11.1, 14.2, 16.4]],
  [26.25, [0.6, 1.0, 1.5, 2.0, 2.6, 3.3, 4.2, 5.3, 6.7, 8.5, 10.8, 13.6]],
  [26.15, [0.3, 0.8, 1.2, 1.8, 2.4, 3.1, 4.0, 5.1, 6.5, 8.3, 10.6, 13.8, 15.4]],
  [26.05, [0.5, 0.9, 1.5, 2.1, 2.8, 3.6, 4.7, 6.1, 7.9, 10.3, 13.4]],
  [25.95, [0.4, 1.0, 1.6, 2.3, 3.1, 4.1, 5.4, 7.1, 9.4, 12.5, 16.7]],
  [25.85, [0.6, 1.2, 1.8, 2.5, 3.4, 4.5, 6.0, 8.0, 10.8, 14.6]],
  [25.75, [0.5, 1.0, 1.6, 2.3, 3.2, 4.4, 6.0, 8.2, 11.5, 15.1]],
  [25.65, [0.3, 0.8, 1.3, 2.0, 2.8, 3.9, 5.4, 7.5, 10.4, 13.6]],
  [25.55, [0.6, 1.1, 1.8, 2.6, 3.7, 5.1, 7.0, 9.7, 12.7]],
  [25.45, [0.5, 1.0, 1.6, 2.4, 3.4, 4.7, 6.5, 9.2, 14.5]],
  [25.35, [0.7, 1.3, 2.0, 2.9, 4.1, 5.8, 8.3, 12.2]],
  [25.25, [0.6, 1.1, 1.8, 2.6, 3.7, 5.3, 7.6, 10.9]],
  [25.15, [0.8, 1.4, 2.2, 3.2, 4.6, 6.7, 9.8, 13.5]],
  [25.05, [0.7, 1.2, 1.9, 2.8, 4.1, 6.0, 8.9]],
  [24.95, [0.9, 1.5, 2.3, 3.4, 5.2, 7.9]],
  [24.85, [0.8, 1.3, 2.1, 3.2, 4.9, 7.4, 11.8]],
  [24.75, [1.0, 1.7, 2.7, 4.2, 6.6]],
  [24.65, [0.9, 1.5, 2.4, 3.8, 6.0, 10.0]],
  [24.55, [1.2, 2.1, 3.4, 5.3]],
  [24.45, [1.0, 1.8, 3.0, 4.8, 9.2]],
  [24.35, [1.5, 2.6, 4.2, 7.2]],
  [24.25, [1.3, 2.2, 3.7, 6.6]],
  [24.15, [1.7, 3.0, 5.1]],
  [24.05, [1.5, 2.6, 4.4, 8.1]],
  [23.95, [1.3, 2.2, 3.8]],
  [23.85, [2.0, 3.4]],
  [23.75, [1.8, 3.0, 5.3]],
  [23.65, [1.6, 2.6, 4.5]],
  [23.55, [2.2, 3.1, 3.9, 4.6, 5.2, 5.9, 7.3]],
  [23.45, [1.9, 3.8]],
  [23.35, [1.3, 2.6]],
  [23.15, [1.7, 2.4]],
  [22.85, [1.4, 3.4]],
  [22.65, [1.3]],
];

const FONT = '"Liberation Sans", Arial, Helvetica, sans-serif';
const TOP = 54;
const BOTTOM = 550;

type PanelProps = {
  x0: number;
  x1: number;
  xDomain: [number, number];
  xTicks: number[];
  scatter: [number, number[]][];
  profX: number[];
  profT: number[];
  profErr: number[];
  children?: any;
};

function Panel({ x0, x1, xDomain, xTicks, scatter, profX, profT, profErr, children }: PanelProps) {
  const x = d3.scaleLinear().domain(xDomain).range([x0, x1]);
  const y = d3.scaleLinear().domain([22, 32]).range([BOTTOM, TOP]);
  const pts = scatter.flatMap(([t, xs]) => xs.map((v) => [v, t] as [number, number]));
  const line = d3.line<number>().x((_, i) => x(profX[i])).y((d) => y(d));
  return (
    <g>
      {xTicks.filter((t) => t !== xDomain[0]).map((t) => (
        <line key={'gx' + t} x1={x(t)} x2={x(t)} y1={TOP} y2={BOTTOM} stroke="#c4c4c4" strokeWidth={1} strokeDasharray="1,2" />
      ))}
      {tempTicks.filter((t) => t !== 22).map((t) => (
        <line key={'gy' + t} x1={x0} x2={x1} y1={y(t)} y2={y(t)} stroke="#c4c4c4" strokeWidth={1} strokeDasharray="1,2" />
      ))}
      <line x1={x1} x2={x1} y1={TOP} y2={BOTTOM} stroke="#c4c4c4" strokeWidth={1} strokeDasharray="1,2" />
      {pts.map(([a, b], i) => (
        <rect key={'p' + i} x={x(a) - 1} y={y(b) - 1} width={2} height={2} fill="#707070" />
      ))}
      {children && children(x, y)}
      <path d={line(profT) || ''} fill="none" stroke="#000" strokeWidth={3} strokeLinejoin="round" />
      {profX.map((v, i) => {
        const cx = x(v);
        const ya = y(profT[i] + profErr[i]);
        const yb = y(profT[i] - profErr[i]);
        return (
          <g key={'e' + i} stroke="#000" strokeWidth={3}>
            <line x1={cx} x2={cx} y1={ya} y2={yb} />
            <line x1={cx - 5} x2={cx + 5} y1={ya} y2={ya} />
            <line x1={cx - 5} x2={cx + 5} y1={yb} y2={yb} />
          </g>
        );
      })}
      <line x1={x0} x2={x0} y1={TOP} y2={BOTTOM} stroke="#444" strokeWidth={1} />
      <line x1={x0} x2={x1} y1={BOTTOM} y2={BOTTOM} stroke="#444" strokeWidth={1} />
      {tempTicks.map((t) => (
        <g key={'ty' + t}>
          <line x1={x0} x2={x0 + 5} y1={y(t)} y2={y(t)} stroke="#444" />
          <text x={x0 - 4} y={y(t) + 5} textAnchor="end" fontSize={15} fontFamily={FONT} fill="#222">{t}</text>
        </g>
      ))}
      {xTicks.map((t) => (
        <g key={'tx' + t}>
          <line x1={x(t)} x2={x(t)} y1={BOTTOM} y2={BOTTOM - 5} stroke="#444" />
          <text x={x(t)} y={BOTTOM + 19} textAnchor="middle" fontSize={15} fontFamily={FONT} fill="#222">{t}</text>
        </g>
      ))}
    </g>
  );
}

function Legend({ x, y, w, third }: { x: number; y: number; w: number; third: 'cbh' | 'epi' }) {
  const rows = [y + 12, y + 31, y + 50];
  const lx0 = x + 3;
  const lx1 = x + 28;
  const tx = x + 30;
  return (
    <g fontFamily={FONT} fontSize={14.5} fill="#111">
      <rect x={x} y={y} width={w} height={68} fill="#fff" stroke="#333" strokeWidth={1} />
      <rect x={(lx0 + lx1) / 2 - 1} y={rows[0] - 1} width={2} height={2} fill="#707070" />
      <text x={tx} y={rows[0] + 5}>Temperature values</text>
      <line x1={lx0} x2={lx1} y1={rows[1]} y2={rows[1]} stroke="#000" strokeWidth={3} />
      <text x={tx} y={rows[1] + 5}>Temperature profile</text>
      {third === 'cbh' ? (
        <g>
          <line x1={lx0} x2={lx1} y1={rows[2]} y2={rows[2]} stroke="#1010ff" strokeWidth={3} strokeDasharray="5,3" />
          <circle cx={(lx0 + lx1) / 2} cy={rows[2]} r={3.3} fill="#1010ff" />
          <text x={tx} y={rows[2] + 5}>CBH00 temperature profile</text>
        </g>
      ) : (
        <g>
          <line x1={lx0} x2={lx1} y1={rows[2]} y2={rows[2]} stroke="#e00000" strokeWidth={3.5} strokeDasharray="5,3" />
          <text x={tx} y={rows[2] + 5}>EPI Theory temperature profile</text>
        </g>
      )}
    </g>
  );
}

export default function App() {
  return (
    <svg width={W} height={H} style={{ position: 'absolute', left: 0, top: 0, display: 'block', background: '#fff' }}>
      <rect x={0} y={0} width={W} height={H} fill="#fff" />
      <text x={337} y={29} fontFamily={FONT} fontSize={26.5} fill="#111">
        Temperature with radius and R/R<tspan fontSize={20} dy={11}>MAX</tspan>
      </text>

      <Panel x0={69} x1={516} xDomain={[0, 750]} xTicks={radiusTicks} scatter={[...leftScatter, ...leftScatterB]}
        profX={profileRadius} profT={profileRadiusT} profErr={profileRadiusErr}>
        {(x: any, y: any) => {
          const l = d3.line<number>().x((_, i) => x(cbhRadius[i])).y((d) => y(d));
          return (
            <g>
              <path d={l(cbhT) || ''} fill="none" stroke="#1010ff" strokeWidth={3} strokeDasharray="6,3" />
              {cbhRadius.map((r, i) => (
                <circle key={'c' + i} cx={x(r)} cy={y(cbhT[i])} r={3.5} fill="#1010ff" />
              ))}
            </g>
          );
        }}
      </Panel>

      <Panel x0={558} x1={1003} xDomain={[0, 18.17]} xTicks={ratioTicks} scatter={[...rightScatter, ...rightScatterB]}
        profX={profileRatio} profT={profileRatioT} profErr={profileRatioErr}>
        {(x: any, y: any) => {
          const l = d3.line<number>().x((_, i) => x(epiRatio[i])).y((d) => y(d));
          return (
            <g>
              <path d={l(epiT) || ''} fill="none" stroke="#e00000" strokeWidth={3.5} strokeDasharray="5,3" />
              {epiRatio.map((r, i) => (
                <circle key={'ep' + i} cx={x(r)} cy={y(epiT[i])} r={2.5} fill="#e00000" />
              ))}
            </g>
          );
        }}
      </Panel>

      <Legend x={302} y={59} w={213} third="cbh" />
      <Legend x={765} y={59} w={235} third="epi" />

      <text transform="translate(37,312) rotate(-90)" textAnchor="middle" fontFamily={FONT} fontSize={33} fill="#111">
        Temperature (°C)
      </text>
      <text x={297} y={597} textAnchor="middle" fontFamily={FONT} fontSize={26} fill="#111">Radius (km)</text>
      <text x={737} y={595} fontFamily={FONT} fontSize={26} fill="#111">
        R/R<tspan fontSize={19} dy={14}>MAX</tspan>
      </text>
    </svg>
  );
}
